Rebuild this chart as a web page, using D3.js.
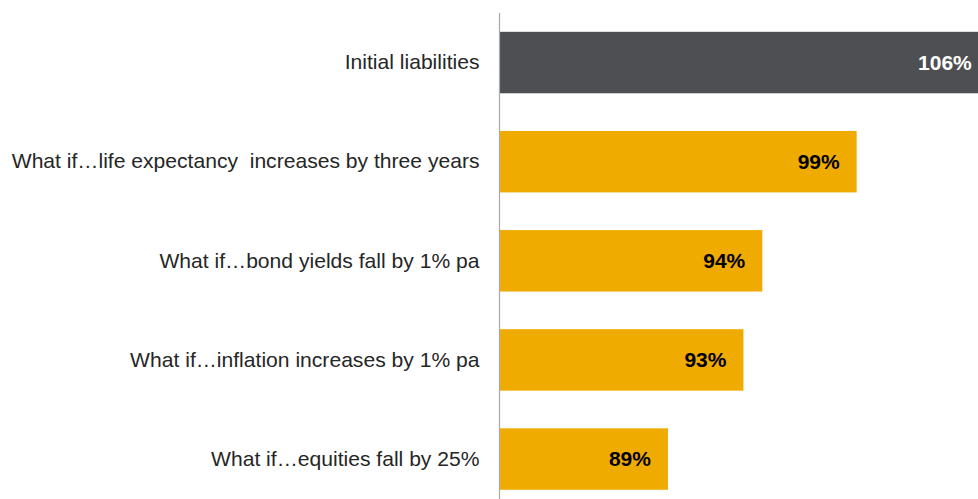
<!DOCTYPE html>
<html>
<head>
<meta charset="utf-8">
<script src="https://cdn.jsdelivr.net/npm/d3@7"></script>
<style>
  html, body { margin: 0; padding: 0; background: #fff; }
  svg { display: block; }
  .cat { font-family: "Liberation Sans", Arial, sans-serif; font-size: 21.1px; fill: #262626; white-space: pre; }
  .val { font-family: "Liberation Sans", Arial, sans-serif; font-size: 21px; font-weight: bold; }
</style>
</head>
<body>
<svg id="chart" width="978" height="499"></svg>
<script>
// Funding level under each scenario
const categories = [
  "Initial liabilities",
  "What if\u2026life expectancy  increases by three years",
  "What if\u2026bond yields fall by 1% pa",
  "What if\u2026inflation increases by 1% pa",
  "What if\u2026equities fall by 25%"
];
const values = [106, 99, 94, 93, 89];
const valueLabels = ["106%", "99%", "94%", "93%", "89%"];
const barColors = ["#4e4f53", "#f0ab00", "#f0ab00", "#f0ab00", "#f0ab00"];
const labelColors = ["#ffffff", "#000000", "#000000", "#000000", "#000000"];

const width = 978, height = 499;
const svg = d3.select("#chart");

const x = d3.scaleLinear().domain([80.1, 105.43]).range([500, 978]);
const y = d3.scaleBand().domain(categories).range([13, 508.6])
  .paddingInner(0.38).paddingOuter(0.19);

const rows = categories.map((c, i) => ({
  cat: c, value: values[i], label: valueLabels[i], fill: barColors[i], text: labelColors[i]
}));

// bars
svg.append("g").selectAll("rect").data(rows).join("rect")
  .attr("x", x(x.domain()[0]))
  .attr("y", d => y(d.cat))
  .attr("width", d => x(d.value) - x(x.domain()[0]))
  .attr("height", y.bandwidth())
  .attr("fill", d => d.fill);

// value labels inside bar ends
svg.append("g").selectAll("text").data(rows).join("text")
  .attr("class", "val")
  .attr("x", d => x(d.value) - 17)
  .attr("y", d => y(d.cat) + y.bandwidth() / 2)
  .attr("dy", "0.35em")
  .attr("text-anchor", "end")
  .attr("fill", d => d.text)
  .text(d => d.label);

// category axis
const axis = d3.axisLeft(y).tickSize(0).tickPadding(20);
const gAxis = svg.append("g").attr("transform", "translate(499.5,0)").call(axis);
gAxis.select(".domain").remove();
gAxis.selectAll("text").attr("class", "cat").attr("fill", null);
gAxis.attr("font-size", null).attr("font-family", null);

svg.append("line")
  .attr("x1", 499.5).attr("x2", 499.5)
  .attr("y1", 13).attr("y2", height)
  .attr("stroke", "#a8a8b0").attr("stroke-width", 1.2);
</script>
</body>
</html>
